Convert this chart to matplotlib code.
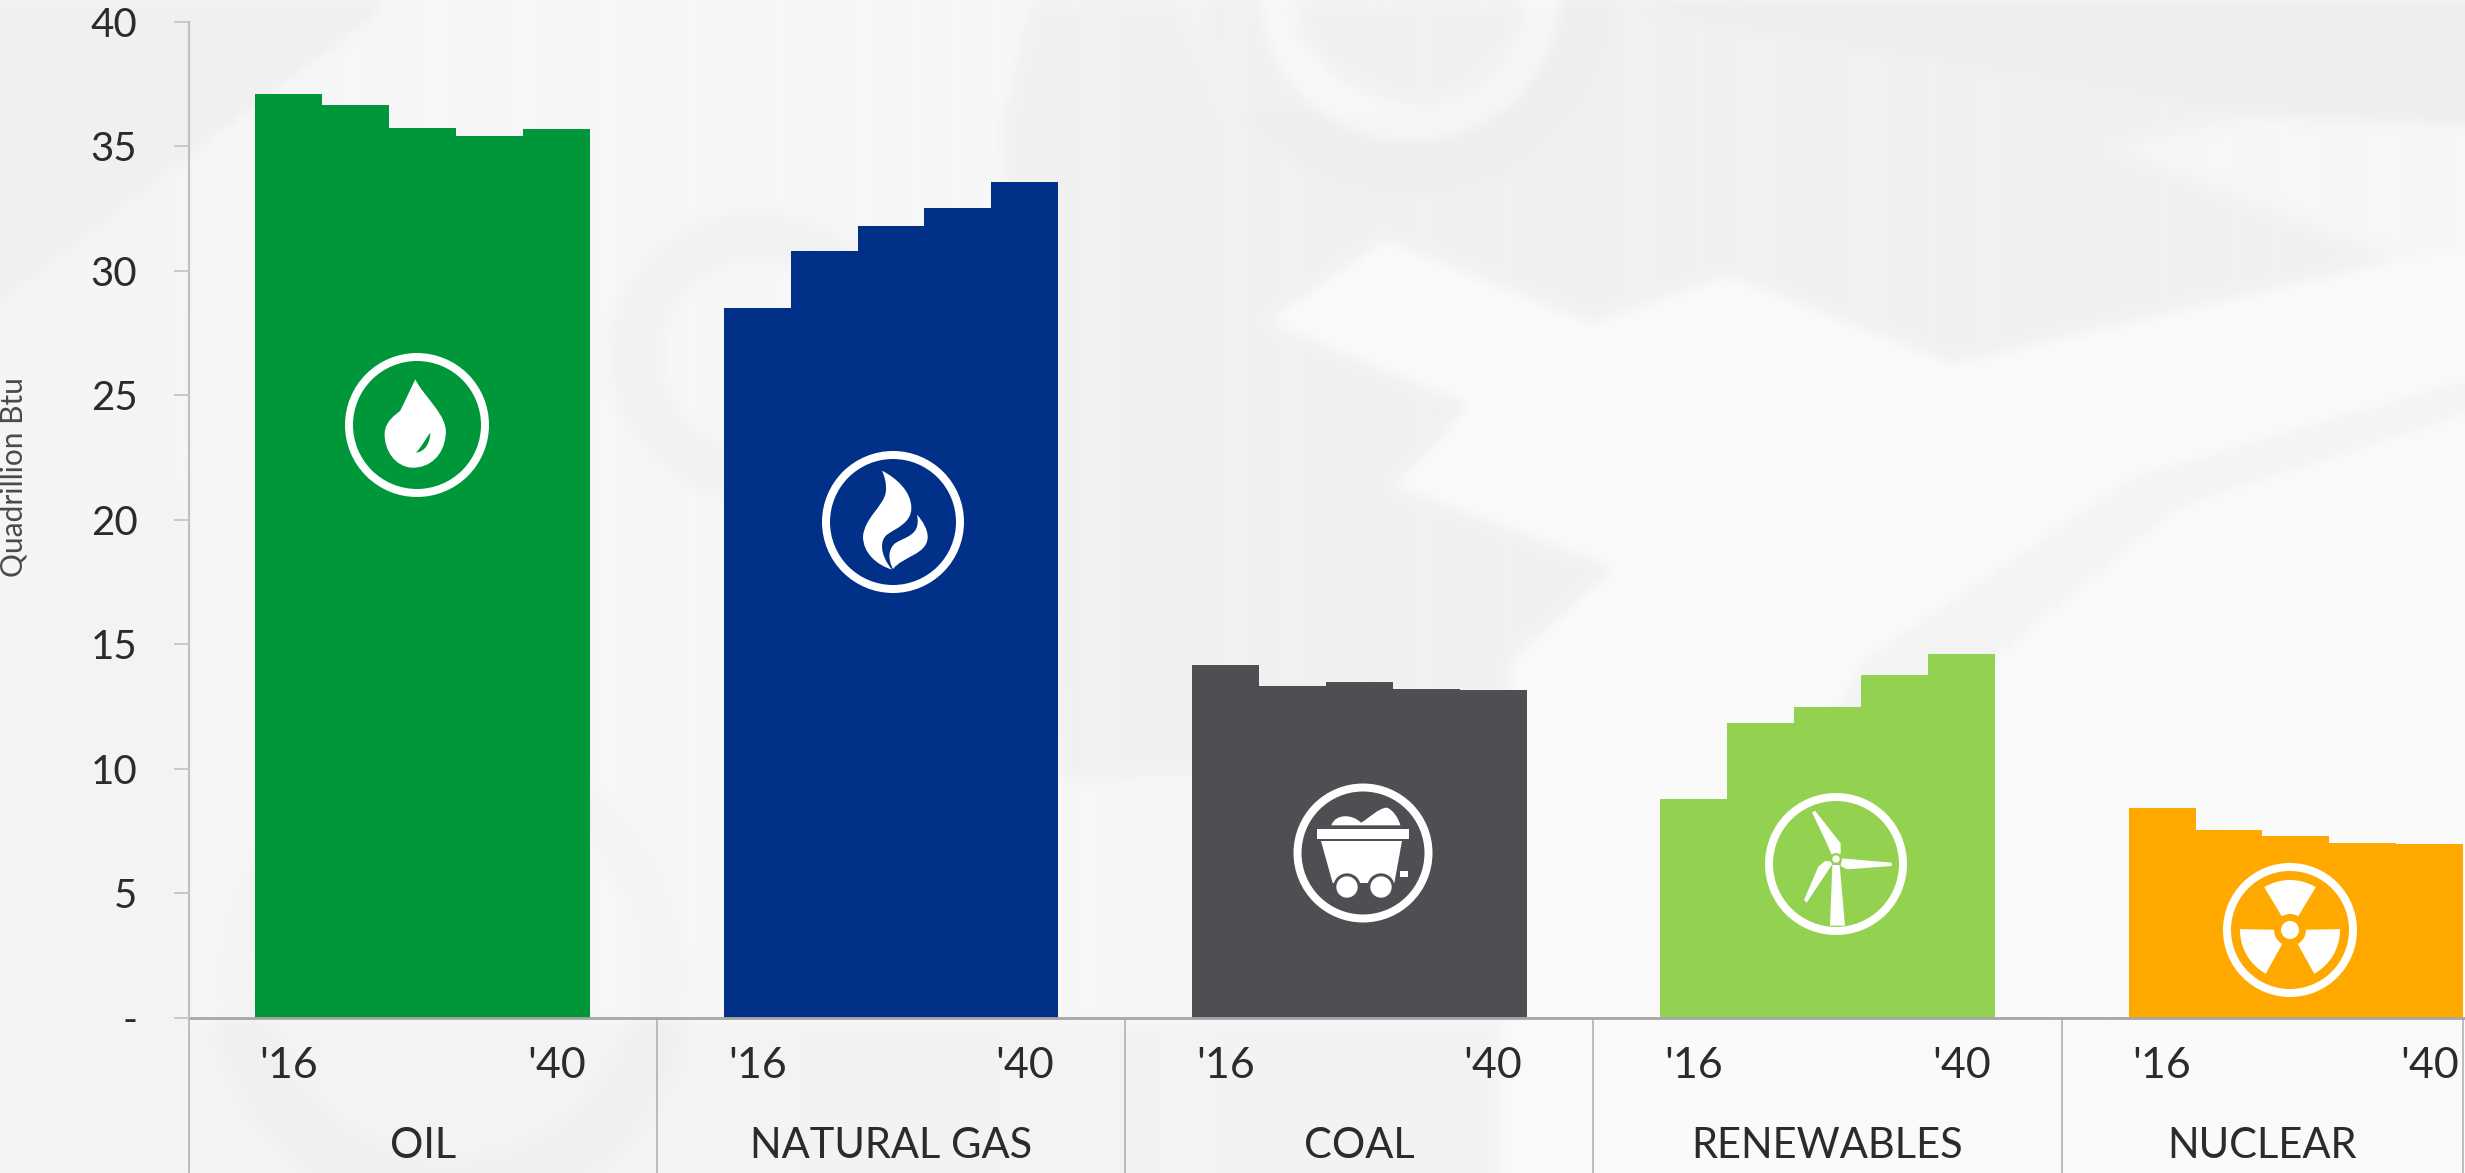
import numpy as np
import matplotlib
matplotlib.use("Agg")
import matplotlib.pyplot as plt
from matplotlib.path import Path
from matplotlib.patches import PathPatch, Circle, Wedge, Polygon
from matplotlib.transforms import Affine2D

# Energy consumption by fuel, quadrillion Btu, in five steps from 2016 to 2040
categories = ["OIL", "NATURAL GAS", "COAL", "RENEWABLES", "NUCLEAR"]
oil = [37.1, 36.65, 35.72, 35.4, 35.68]
natural_gas = [28.5, 30.8, 31.8, 32.5, 33.55]
coal = [14.16, 13.3, 13.47, 13.2, 13.15]
renewables = [8.78, 11.83, 12.47, 13.75, 14.6]
nuclear = [8.41, 7.53, 7.28, 7.0, 6.96]
series = [oil, natural_gas, coal, renewables, nuclear]
colors = ["#00963A", "#003087", "#4D4F53", "#93D250", "#FFA900"]
y_ticks = [0, 5, 10, 15, 20, 25, 30, 35, 40]
y_tick_labels = ["-", "5", "10", "15", "20", "25", "30", "35", "40"]
year_labels = ["'16", "'40"]

W, H = 2465, 1173
DPI = 100
SLOT = 66.9
X0, Y0, Y40 = 188.5, 1017.5, 21.7
TEXT = "#2B2B2B"

plt.rcParams["font.family"] = ["Lato", "DejaVu Sans"]
fig = plt.figure(figsize=(W / DPI, H / DPI), dpi=DPI, facecolor="#F8F8F8")


def soft_backdrop():
    """Pale, blurred machinery shapes painted behind the chart."""
    step = 3
    xs, ys = np.meshgrid(np.arange(0, W, step), np.arange(0, H, step))
    pts = np.column_stack([xs.ravel(), ys.ravel()])
    img = np.full(xs.shape, 0.968)

    def fill(vertices, value):
        mask = Path(np.array(vertices, dtype=float)).contains_points(pts).reshape(xs.shape)
        img[mask] = value

    def shift(vertices, delta):
        mask = Path(np.array(vertices, dtype=float)).contains_points(pts).reshape(xs.shape)
        img[mask] += delta

    def ring(cx, cy, r0, r1, delta):
        d = np.hypot(xs - cx, ys - cy)
        img[(d >= r0) & (d <= r1)] += delta

    # Left side: dark corner and faint bolt outlines
    shift([(0, 0), (390, 0), (205, 140), (0, 300)], -0.03)
    shift([(0, 300), (205, 140), (190, 470), (0, 660)], -0.008)
    shift([(0, 660), (190, 470), (190, 1173), (0, 1173)], -0.012)
    ring(755, 355, 95, 145, -0.02)
    ring(450, 975, 190, 235, -0.012)
    shift([(190, 1020), (1600, 1020), (1600, 1173), (190, 1173)], -0.018)

    # Large dim plate filling the upper right
    fill([(1000, 130), (1030, 0), (2465, 0), (2465, 660), (1510, 760), (1060, 780), (1030, 400)], 0.945)
    fill([(1590, 0), (2465, 0), (2465, 125), (2259, 112)], 0.93)
    fill([(1180, 0), (1270, 0), (1295, 50), (1420, 110), (1230, 110)], 0.955)

    # Bright facets below the plate
    fill([(1267, 320), (1384, 238), (1591, 322), (1727, 274), (1952, 362), (2395, 259), (2465, 250),
          (2465, 1173), (1500, 1173), (1510, 660), (1614, 566), (1393, 484), (1470, 404)], 0.98)
    fill([(2115, 147), (2259, 112), (2465, 122), (2465, 250), (2395, 259)], 0.965)
    fill([(1862, 660), (2133, 476), (2465, 379), (2465, 412), (2178, 505), (1989, 660), (1880, 790), (1790, 790)], 0.955)

    # Bolt head at the top
    ring(1410, -10, 115, 150, 0.02)
    ring(1410, -10, 150, 205, -0.012)

    # Box blur, run a few times, softens the hard polygon edges
    kernel = np.ones(5) / 5
    for _ in range(2):
        for axis in (0, 1):
            img = np.apply_along_axis(lambda v: np.convolve(np.pad(v, 2, mode="edge"), kernel, "valid"), axis, img)
    bg = fig.add_axes([0, 0, 1, 1], zorder=-1)
    bg.imshow(img, cmap="gray", vmin=0, vmax=1, extent=(0, W, H, 0), aspect="auto", interpolation="bilinear")
    bg.axis("off")


soft_backdrop()

ax = fig.add_axes([X0 / W, 1 - Y0 / H, (W - X0) / W, (Y0 - Y40) / H])
ax.patch.set_alpha(0)
ax.set_xlim(0, (W - X0) / SLOT)
ax.set_ylim(0, 40)

# Each fuel takes seven slots: a blank on each side of five adjoining bars
for c, (values, color) in enumerate(zip(series, colors)):
    x = 7 * c + 1.5 + np.arange(len(values))
    ax.bar(x, values, width=1.0, color=color, linewidth=0, zorder=2)

for s in ("top", "right", "bottom"):
    ax.spines[s].set_visible(False)
ax.spines["left"].set_color("#C0C0C0")
ax.spines["left"].set_linewidth(1.6)
ax.spines["left"].set_zorder(1)

ax.set_yticks(y_ticks, y_tick_labels, fontsize=29, color=TEXT)
ax.tick_params(axis="y", length=10.8, width=1.4, color="#C8C8C8", pad=26)

tick_x = [7 * c + p for c in range(5) for p in (1.5, 5.5)]
ax.set_xticks(tick_x, year_labels * 5, fontsize=31, color=TEXT)
ax.tick_params(axis="x", length=0, pad=21)

ax.set_ylabel("Quadrillion Btu", fontsize=21.5, color="#4A4A4A")
ax.yaxis.set_label_coords(-(X0 - 27) / (W - X0), 1 - (477.5 - Y40) / (Y0 - Y40))

xt = ax.get_xaxis_transform()
below = -(H - Y0) / (Y0 - Y40)
ax.plot([0, 1], [0, 0], transform=ax.transAxes, color="#A6A6A6", lw=2.0, clip_on=False, zorder=3, solid_capstyle="butt")

# The last group is cut short by the right edge, so its label centres on what remains
separators = [min(7 * c, (2463 - X0) / SLOT) for c in range(6)]
for xpos in separators:
    ax.plot([xpos, xpos], [0, below], transform=xt, color="#ABABAB", lw=1.1, clip_on=False, zorder=1)
for c, name in enumerate(categories):
    ax.text((separators[c] + separators[c + 1]) / 2, -(1146 - Y0) / (Y0 - Y40), name, transform=xt,
            ha="center", va="center", fontsize=30, color=TEXT, clip_on=False)


# Badges are sketched on a 3x pixel grid around their own centre, y pointing down
def badge(center, outer, grid_center):
    px, py = center
    to_disp = Affine2D().scale(1 / 3, -1 / 3).translate(px, H - py)

    def local(points):
        return [(x - grid_center[0], y - grid_center[1]) for x, y in points]

    def add(patch):
        patch.set_transform(to_disp)
        patch.set_zorder(5)
        patch.set_clip_on(False)
        fig.add_artist(patch)

    add(Circle((0, 0), outer * 3 - 12, facecolor="none", edgecolor="white", linewidth=8 * 72 / DPI))
    return local, add


def curve(start, *segments):
    """Closed cubic path; every segment is (control, control, end)."""
    verts, codes = [start], [Path.MOVETO]
    for seg in segments:
        verts.extend(seg)
        codes.extend([Path.CURVE4] * 3)
    verts.append(start)
    codes.append(Path.CLOSEPOLY)
    return verts, codes


white = dict(facecolor="white", edgecolor="none")

# Oil drop
local, add = badge((417, 425), 72, (291, 255))
v, cd = curve((286, 118),
              ((310, 170), (385, 225), (377, 285)),
              ((372, 345), (330, 385), (275, 383)),
              ((225, 380), (192, 330), (194, 280)),
              ((195, 245), (225, 225), (240, 213)),
              ((255, 185), (270, 150), (286, 118)))
add(PathPatch(Path(local(v), cd), **white))
v, cd = curve((288, 338), ((305, 320), (318, 295), (331, 278)), ((330, 310), (315, 335), (288, 338)))
add(PathPatch(Path(local(v), cd), facecolor=colors[0], edgecolor="none"))

# Gas flame
local, add = badge((893, 522), 71, (280, 247))
v, cd = curve((247, 93),
              ((290, 115), (335, 155), (335, 205)),
              ((335, 250), (290, 265), (262, 285)),
              ((240, 302), (240, 345), (277, 390)),
              ((230, 375), (190, 340), (190, 290)),
              ((195, 235), (250, 200), (258, 160)),
              ((262, 135), (255, 110), (247, 93)))
add(PathPatch(Path(local(v), cd), **white))
v, cd = curve((352, 225),
              ((370, 245), (385, 270), (384, 295)),
              ((380, 345), (310, 350), (280, 388)),
              ((265, 360), (265, 330), (285, 312)),
              ((315, 290), (365, 290), (352, 225)))
add(PathPatch(Path(local(v), cd), **white))

# Mine cart
local, add = badge((1363, 853), 69.5, (278, 248))
v, cd = curve((183, 165),
              ((195, 130), (245, 130), (272, 157)),
              ((295, 145), (325, 112), (350, 112)),
              ((370, 120), (385, 145), (390, 165)),
              ((320, 165), (250, 165), (183, 165)))
add(PathPatch(Path(local(v), cd), **white))
add(Polygon(local([(140, 177), (415, 177), (415, 205), (140, 205)]), **white))
add(Polygon(local([(152, 212), (395, 212), (372, 338), (187, 338)]), **white))
add(Polygon(local([(390, 303), (412, 303), (412, 320), (390, 320)]), **white))
for wheel in [(230, 350), (332, 350)]:
    add(Circle(local([wheel])[0], 41, facecolor=colors[2], edgecolor="none"))
    add(Circle(local([wheel])[0], 32, **white))

# Wind turbine
local, add = badge((1836, 864), 71, (258, 252))
add(Polygon(local([(247, 255), (269, 255), (285, 437), (240, 437)]), **white))
add(Polygon(local([(186, 97), (195, 92), (272, 190), (272, 222), (246, 226), (228, 185)]), **white))
add(Polygon(local([(275, 235), (425, 248), (425, 258), (292, 268), (272, 258)]), **white))
add(Polygon(local([(252, 245), (170, 368), (162, 360), (205, 260), (225, 243)]), **white))
hub = local([(258, 237)])[0]
add(Circle(hub, 18, facecolor=colors[3], edgecolor="none"))
add(Circle(hub, 11, **white))

# Radiation trefoil
local, add = badge((2290, 930), 67, (270, 240))
hub = local([(270, 240)])[0]
for mid in (-90, 30, 150):
    add(Wedge(hub, 150, mid - 31, mid + 31, width=102, **white))
add(Circle(hub, 27, **white))

fig.savefig("out.png", dpi=DPI, facecolor=fig.get_facecolor())
